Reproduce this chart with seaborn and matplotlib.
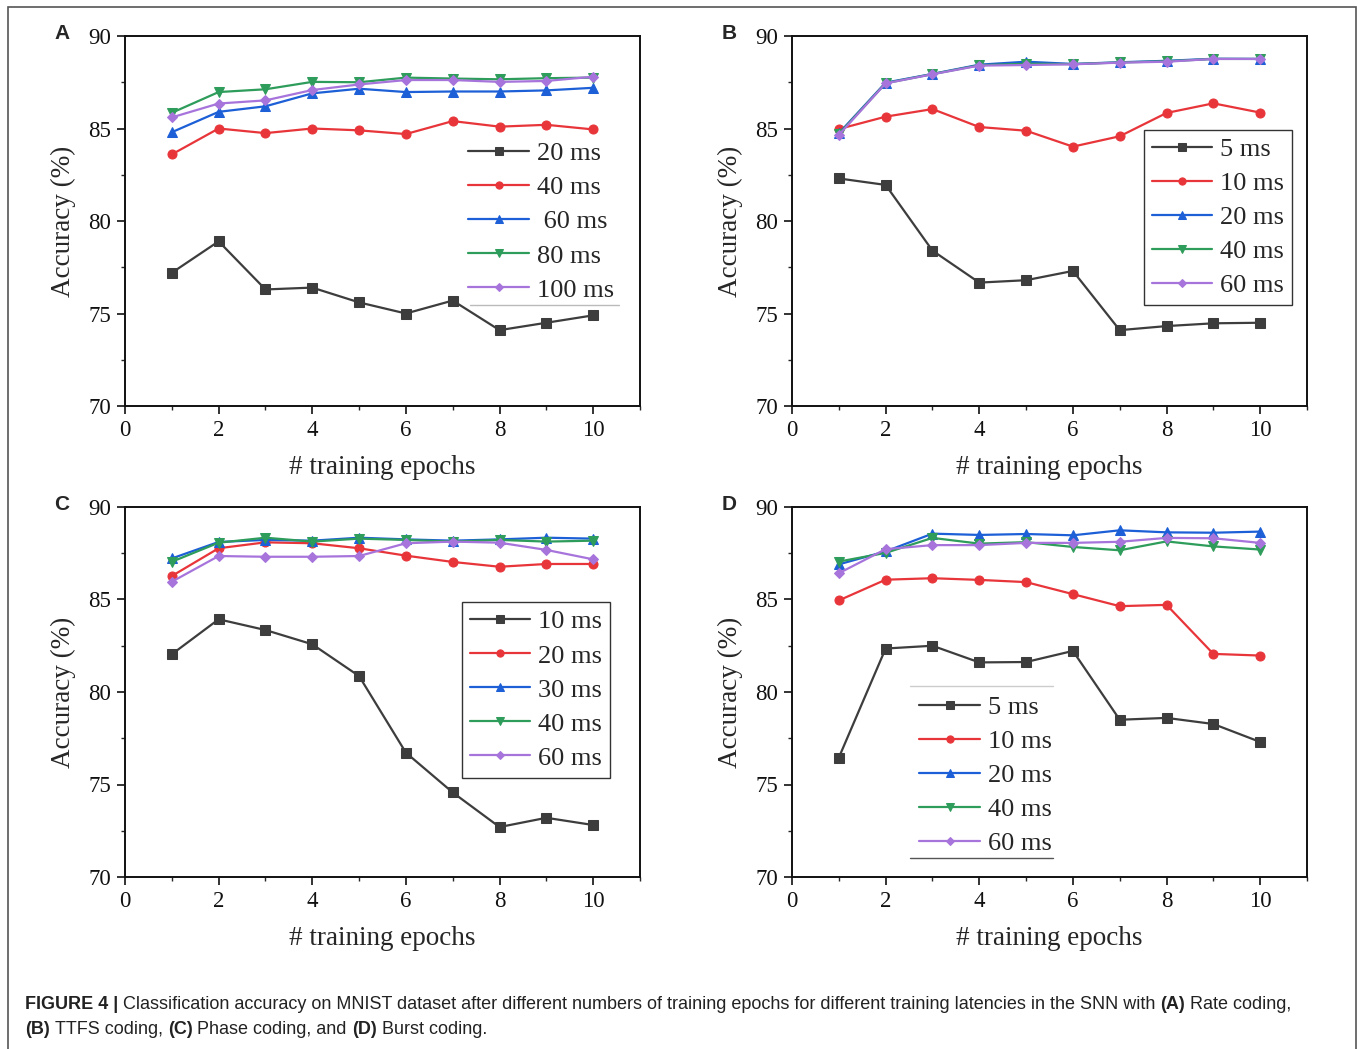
import matplotlib
matplotlib.use('Agg')
import matplotlib.pyplot as plt
import seaborn as sns
import pandas as pd
from matplotlib import font_manager
from matplotlib.patches import Rectangle
from matplotlib.ticker import MultipleLocator

epochs = [1, 2, 3, 4, 5, 6, 7, 8, 9, 10]

# (A) Rate coding
a_labels = ['20 ms', '40 ms', ' 60 ms', '80 ms', '100 ms']
a_s1 = [77.2, 78.9, 76.3, 76.4, 75.6, 75.0, 75.7, 74.1, 74.5, 74.9]
a_s2 = [83.6, 85.0, 84.75, 85.0, 84.9, 84.7, 85.4, 85.1, 85.2, 84.95]
a_s3 = [84.8, 85.9, 86.2, 86.9, 87.15, 86.97, 87.0, 87.0, 87.06, 87.2]
a_s4 = [85.85, 86.97, 87.12, 87.52, 87.5, 87.75, 87.7, 87.66, 87.72, 87.75]
a_s5 = [85.6, 86.35, 86.52, 87.08, 87.38, 87.62, 87.62, 87.52, 87.57, 87.8]

# (B) TTFS coding
b_labels = ['5 ms', '10 ms', '20 ms', '40 ms', '60 ms']
b_s1 = [82.3, 81.95, 78.4, 76.67, 76.8, 77.3, 74.1, 74.32, 74.47, 74.5]
b_s2 = [84.97, 85.64, 86.05, 85.08, 84.88, 84.02, 84.58, 85.84, 86.36, 85.86]
b_s3 = [84.74, 87.48, 87.95, 88.45, 88.61, 88.49, 88.58, 88.66, 88.77, 88.76]
b_s4 = [84.7, 87.45, 87.94, 88.42, 88.5, 88.48, 88.57, 88.63, 88.76, 88.76]
b_s5 = [84.65, 87.44, 87.93, 88.4, 88.43, 88.47, 88.56, 88.61, 88.76, 88.76]

# (C) Phase coding
c_labels = ['10 ms', '20 ms', '30 ms', '40 ms', '60 ms']
c_s1 = [82.04, 83.93, 83.35, 82.58, 80.86, 76.72, 74.57, 72.7, 73.2, 72.81]
c_s2 = [86.27, 87.77, 88.09, 88.04, 87.77, 87.37, 87.03, 86.77, 86.92, 86.92]
c_s3 = [87.22, 88.11, 88.22, 88.18, 88.34, 88.25, 88.18, 88.25, 88.34, 88.29]
c_s4 = [87.04, 88.07, 88.34, 88.13, 88.29, 88.22, 88.13, 88.22, 88.13, 88.18]
c_s5 = [85.96, 87.35, 87.31, 87.31, 87.35, 88.04, 88.13, 88.07, 87.68, 87.17]

# (D) Burst coding
d_labels = ['5 ms', '10 ms', '20 ms', '40 ms', '60 ms']
d_s1 = [76.45, 82.35, 82.5, 81.6, 81.62, 82.22, 78.5, 78.6, 78.27, 77.3]
d_s2 = [84.95, 86.07, 86.15, 86.06, 85.94, 85.29, 84.64, 84.71, 82.06, 81.97]
d_s3 = [86.9, 87.6, 88.56, 88.49, 88.54, 88.47, 88.74, 88.63, 88.61, 88.67]
d_s4 = [87.05, 87.52, 88.33, 88.02, 88.1, 87.84, 87.66, 88.14, 87.87, 87.7]
d_s5 = [86.42, 87.72, 87.94, 87.94, 88.06, 88.06, 88.12, 88.33, 88.31, 88.06]

colors = ['#3d3d3d', '#e8353a', '#1c5fd6', '#2e9c5a', '#a774dc']
markers = ['s', 'o', '^', 'v', 'D']

sns.set_style('ticks')
plt.rcParams['font.family'] = ['Liberation Serif', 'DejaVu Serif']

names = {f.name for f in font_manager.fontManager.ttflist}
cap_font = 'Liberation Sans Narrow' if 'Liberation Sans Narrow' in names else 'Liberation Sans'

W, H = 1360, 1049
fig = plt.figure(figsize=(W / 100, H / 100), dpi=100)

# outer border of the figure box
fig.patches.append(Rectangle((8 / W, -0.01), 1348 / W, 1.01 - 7 / H, transform=fig.transFigure,
                             fill=False, edgecolor='#555555', linewidth=1.2))

panels = [
    ('A', (125, 36), a_labels, [a_s1, a_s2, a_s3, a_s4, a_s5]),
    ('B', (792, 36), b_labels, [b_s1, b_s2, b_s3, b_s4, b_s5]),
    ('C', (125, 507), c_labels, [c_s1, c_s2, c_s3, c_s4, c_s5]),
    ('D', (792, 507), d_labels, [d_s1, d_s2, d_s3, d_s4, d_s5]),
]

for letter, (px, py), labels, series in panels:
    ax = fig.add_axes([px / W, 1 - (py + 370) / H, 515 / W, 370 / H])
    for lab, vals, col, mk in zip(labels, series, colors, markers):
        df = pd.DataFrame({'epoch': epochs, 'acc': vals})
        sns.lineplot(data=df, x='epoch', y='acc', ax=ax, color=col, marker=mk,
                     markersize=6.5 if mk != 'D' else 5.5, markeredgecolor=col,
                     linewidth=1.6, label=lab)
    ax.set_xlim(0, 11)
    ax.set_ylim(70, 90)
    ax.set_xticks(range(0, 11, 2))
    ax.set_yticks(range(70, 91, 5))
    ax.xaxis.set_minor_locator(MultipleLocator(1))
    ax.yaxis.set_minor_locator(MultipleLocator(2.5))
    ax.tick_params(which='major', direction='out', length=6, width=1.2, labelsize=16.5,
                   top=False, right=False, pad=4, colors='#111111')
    ax.tick_params(which='minor', direction='out', length=3, width=1.0, top=False, right=False)
    for sp in ax.spines.values():
        sp.set_visible(True)
        sp.set_linewidth(1.4)
        sp.set_color('#111111')
    ax.set_xlabel('# training epochs', fontsize=19.5, labelpad=10)
    ax.set_ylabel('Accuracy (%)', fontsize=19.5, labelpad=9)

    leg_kw = dict(fontsize=19, handlelength=2.3, handletextpad=0.3, labelspacing=0.4,
                  borderpad=0.3, borderaxespad=0, fancybox=False, markerscale=0.8)
    if letter == 'A':
        leg = ax.legend(loc='upper right', bbox_to_anchor=(0.965, 0.735), frameon=False, **leg_kw)
        ax.plot([0.67, 0.96], [0.272, 0.272], transform=ax.transAxes, color='#bbbbbb', lw=1.0)
    elif letter == 'B':
        leg = ax.legend(loc='upper right', bbox_to_anchor=(0.971, 0.746), frameon=True, **leg_kw)
    elif letter == 'C':
        leg = ax.legend(loc='upper right', bbox_to_anchor=(0.942, 0.743), frameon=True, **leg_kw)
    else:
        leg = ax.legend(loc='lower left', bbox_to_anchor=(0.232, 0.038), frameon=False, **leg_kw)
        ax.plot([0.23, 0.506], [0.517, 0.517], transform=ax.transAxes, color='#cccccc', lw=1.0)
        ax.plot([0.23, 0.506], [0.051, 0.051], transform=ax.transAxes, color='#555555', lw=1.0)
    if leg.get_frame_on():
        leg.get_frame().set_edgecolor('#333333')
        leg.get_frame().set_linewidth(1.0)
        leg.get_frame().set_alpha(1)

    fig.text((px - 63) / W, 1 - (py - 2) / H, letter, fontsize=15, fontweight='bold',
             family='Liberation Sans', ha='center', va='center')

# caption with bold fragments
renderer = fig.canvas.get_renderer()


def text_width(s, size, bold):
    t = fig.text(0, 0, s, fontsize=size, fontweight='bold' if bold else 'normal', family=cap_font)
    w = t.get_window_extent(renderer).width
    t.remove()
    return w


line1 = [('FIGURE 4 |', True),
         ('Classification accuracy on MNIST dataset after different numbers of training epochs for '
          'different training latencies in the SNN with', False),
         ('(A)', True), ('Rate coding,', False)]
line2 = [('(B)', True), ('TTFS coding,', False), ('(C)', True), ('Phase coding, and', False),
         ('(D)', True), ('Burst coding.', False)]

base = 12
space = text_width('a a', base, False) - text_width('aa', base, False)
total = sum(text_width(s, base, b) for s, b in line1) + space * (len(line1) - 1)
cap_size = base * 1268 / total


def draw_line(parts, x0, y):
    x = x0
    sp = space * cap_size / base
    for s, b in parts:
        fig.text(x / W, 1 - y / H, s, fontsize=cap_size, fontweight='bold' if b else 'normal',
                 family=cap_font, va='baseline', color='#222222')
        x += text_width(s, cap_size, b) + sp


draw_line(line1, 25, 1009)
draw_line(line2, 25, 1034)

fig.savefig('out.png', dpi=100)
